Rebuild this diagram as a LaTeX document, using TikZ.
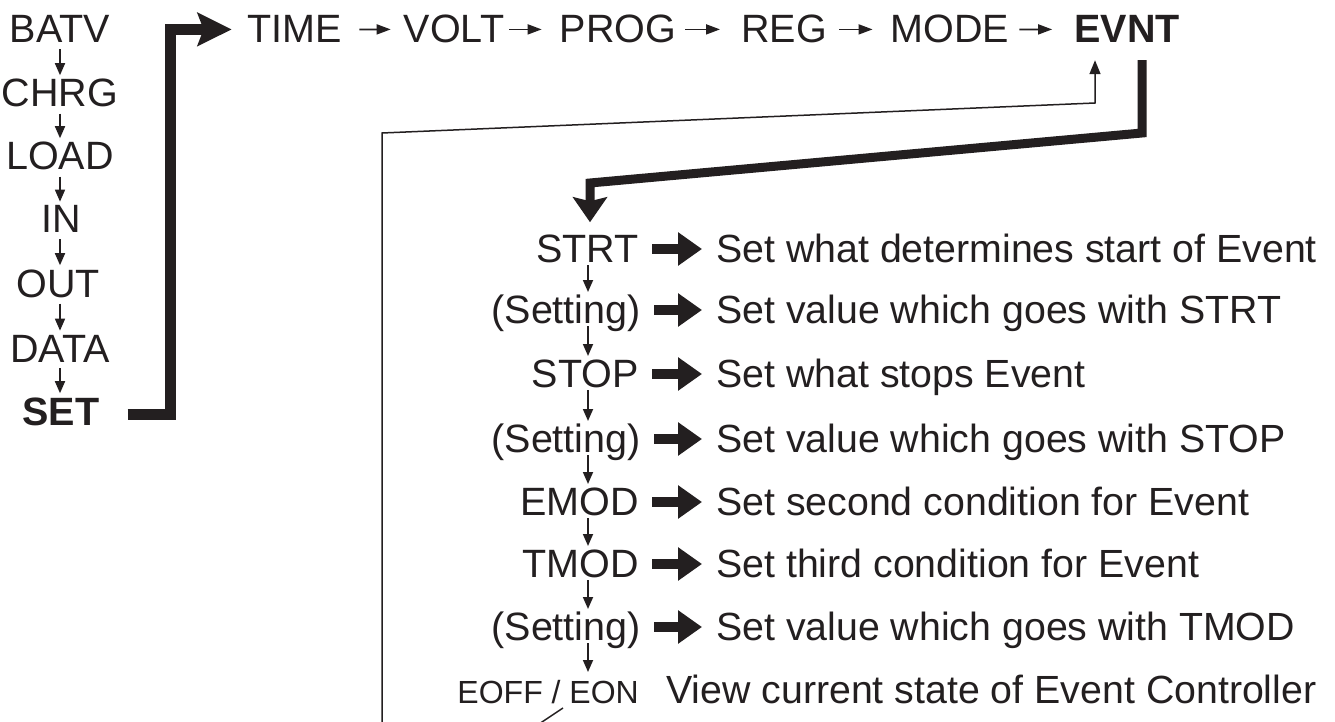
\documentclass[tikz,border=0pt]{standalone}
\usepackage{fontspec}
\setmainfont{Liberation Sans}
\usetikzlibrary{arrows.meta,calc}
\definecolor{ink}{HTML}{231F20}
\begin{document}
\begin{tikzpicture}[x=1pt,y=-1pt,
  lbl/.style={inner sep=0pt,text=ink,font=\fontsize{39.5}{42}\selectfont},
  lblb/.style={lbl,font=\fontsize{39.5}{42}\selectfont\bfseries},
  desc/.style={inner sep=0pt,text=ink,font=\fontsize{39.3}{42}\selectfont},
  smallarr/.style={draw=ink,line width=1.7pt,-{Triangle[length=12pt,width=10pt]}},
  toparr/.style={draw=ink,line width=1.7pt,-{Triangle[length=14pt,width=10pt]}},
  bigarr/.style={draw=ink,line width=10pt,-{Triangle[length=24pt,width=32pt]}},
  setpath/.style={draw=ink,line width=11pt,line join=miter,-{Stealth[length=34pt,width=33pt,inset=6pt]}},
  evpath/.style={draw=ink,line width=9pt,line join=miter,-{Stealth[length=25pt,width=34pt,inset=4pt]}},
  retpath/.style={draw=ink,line width=1.5pt,line join=miter,-{Triangle[length=14pt,width=11pt]}}
]
\useasboundingbox (0,0) rectangle (1335,722);
\fill[white] (0,0) rectangle (1335,722);

% left column
\node[lbl,anchor=base] (batv) at (60,43) {BATV};
\node[lbl,anchor=base] (chrg) at (60,107) {CHRG};
\node[lbl,anchor=base] (load) at (60,170) {LOAD};
\node[lbl,anchor=base] (in) at (61,233) {IN};
\node[lbl,anchor=base] (out) at (58,297) {OUT};
\node[lbl,anchor=base] (data) at (60,362) {DATA};
\node[lblb,anchor=base] (set) at (61,425) {SET};
\foreach \a/\b in {batv/chrg,chrg/load,load/in,in/out,out/data,data/set}
  \draw[smallarr,shorten <=6pt,shorten >=4pt] (\a.south -| batv.south) -- (\b.north -| batv.south);

% top row
\node[lbl,anchor=base] (time) at (295,43) {TIME};
\node[lbl,anchor=base] (volt) at (454,43) {VOLT};
\node[lbl,anchor=base] (prog) at (618,43) {PROG};
\node[lbl,anchor=base] (reg) at (784,43) {REG};
\node[lbl,anchor=base] (mode) at (950,43) {MODE};
\node[lblb,anchor=base] (evnt) at (1127,43) {EVNT};
\draw[toparr,shorten <=17pt,shorten >=13pt] (time.east) -- (volt.west);
\draw[toparr,shorten <=5pt,shorten >=18pt] (volt.east) -- (prog.west);
\draw[toparr,shorten <=9pt,shorten >=21pt] (prog.east) -- (reg.west);
\draw[toparr,shorten <=12pt,shorten >=18pt] (reg.east) -- (mode.west);
\draw[toparr,shorten <=10pt,shorten >=22pt] (mode.east) -- (evnt.west);

% SET -> TIME thick connector
\draw[setpath] ([xshift=28pt,yshift=-3pt]set.east) -- ++(43,0) |- ([xshift=-16pt]time.west);

% right column labels
\node[lbl,anchor=base east] (l1) at (639,262) {STRT};
\node[lbl,anchor=base east] (l2) at (641,323) {(Setting)};
\node[lbl,anchor=base east] (l3) at (639,387) {STOP};
\node[lbl,anchor=base east] (l4) at (641,452) {(Setting)};
\node[lbl,anchor=base east] (l5) at (639,515) {EMOD};
\node[lbl,anchor=base east] (l6) at (639,577) {TMOD};
\node[lbl,anchor=base east] (l7) at (641,640) {(Setting)};
\node[lbl,anchor=base east,font=\fontsize{32}{35}\selectfont] (l8) at (639,703) {EOFF / EON};

\coordinate (ax) at (588,0);
\foreach \a/\b in {l1/l2,l2/l3,l3/l4,l4/l5,l5/l6,l6/l7,l7/l8}
  \draw[smallarr] ([yshift=-3pt]\a.base -| ax) -- ([yshift=31pt]\b.base -| ax);

% descriptions
\node[desc,anchor=base west] (d1) at (716,262) {Set what determines start of Event};
\node[desc,anchor=base west] (d2) at (716,323) {Set value which goes with STRT};
\node[desc,anchor=base west] (d3) at (716,387) {Set what stops Event};
\node[desc,anchor=base west] (d4) at (716,452) {Set value which goes with STOP};
\node[desc,anchor=base west] (d5) at (716,515) {Set second condition for Event};
\node[desc,anchor=base west] (d6) at (716,577) {Set third condition for Event};
\node[desc,anchor=base west] (d7) at (716,640) {Set value which goes with TMOD};
\node[desc,anchor=base west] (d8) at (666,703) {View current state of Event Controller};

\foreach \k in {1,...,7}
  \draw[bigarr] ([xshift=13pt,yshift=13pt]l\k.base east) -- ([xshift=-14pt,yshift=13pt]d\k.base west);

% EVNT -> STRT thick connector
\coordinate (k1) at (1142,133);
\coordinate (k2) at (590,183);
\draw[evpath] ([yshift=-17pt]evnt.south -| k1) -- (k1) -- (k2) -- ([yshift=12pt]l1.north -| k2);

% return line from EOFF/EON to EVNT
\coordinate (r0) at (563,708);
\coordinate (r1) at (515,740);
\coordinate (r2) at (382,740);
\coordinate (r3) at (382,133);
\coordinate (r4) at (1095,103);
\begin{scope}
\clip (0,0) rectangle (1335,722);
\draw[retpath] (r0) -- (r1) -- (r2) -- (r3) -- (r4) -- ([yshift=-17pt]evnt.south -| r4);
\end{scope}
\end{tikzpicture}
\end{document}
